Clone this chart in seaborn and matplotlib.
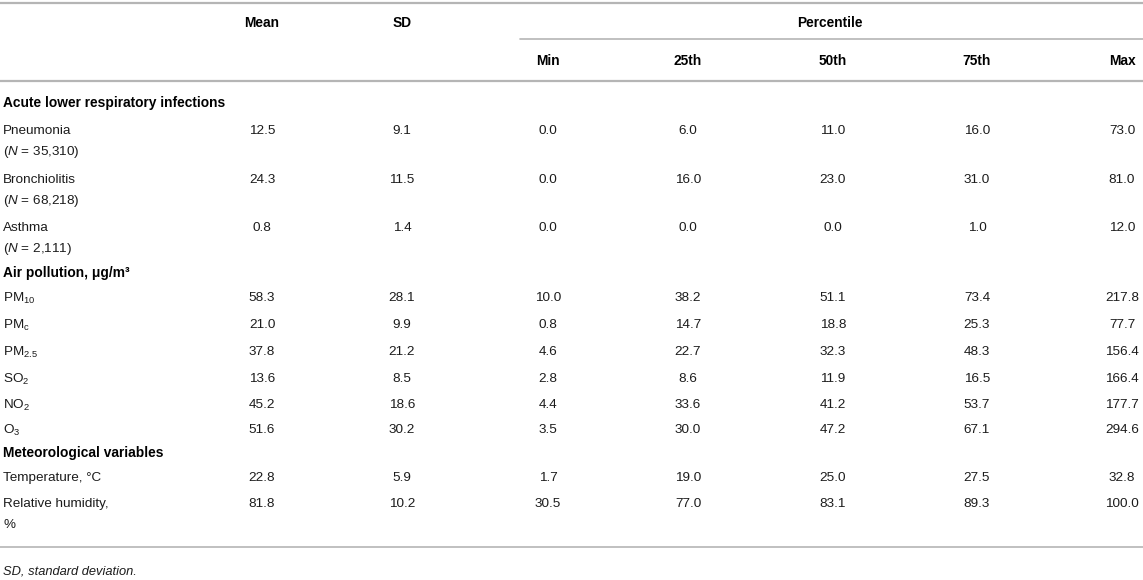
import numpy as np
import pandas as pd
import seaborn as sns
from matplotlib import pyplot as plt

#table contents
columns = ["Mean", "SD", "Min", "25th", "50th", "75th", "Max"]
groups = ["Acute lower respiratory infections", "Air pollution, μg/m³", "Meteorological variables"]
labels = ["Pneumonia", "Bronchiolitis", "Asthma",
          "PM$_\\mathrm{10}$", "PM$_\\mathrm{c}$", "PM$_\\mathrm{2.5}$", "SO$_\\mathrm{2}$", "NO$_\\mathrm{2}$", "O$_\\mathrm{3}$",
          "Temperature, °C", "Relative humidity,"]
sublabels = ["($N$ = 35,310)", "($N$ = 68,218)", "($N$ = 2,111)",
             "", "", "", "", "", "",
             "", "%"]
mean_vals = [12.5, 24.3, 0.8, 58.3, 21.0, 37.8, 13.6, 45.2, 51.6, 22.8, 81.8]
sd_vals = [9.1, 11.5, 1.4, 28.1, 9.9, 21.2, 8.5, 18.6, 30.2, 5.9, 10.2]
min_vals = [0.0, 0.0, 0.0, 10.0, 0.8, 4.6, 2.8, 4.4, 3.5, 1.7, 30.5]
p25_vals = [6.0, 16.0, 0.0, 38.2, 14.7, 22.7, 8.6, 33.6, 30.0, 19.0, 77.0]
p50_vals = [11.0, 23.0, 0.0, 51.1, 18.8, 32.3, 11.9, 41.2, 47.2, 25.0, 83.1]
p75_vals = [16.0, 31.0, 1.0, 73.4, 25.3, 48.3, 16.5, 53.7, 67.1, 27.5, 89.3]
max_vals = [73.0, 81.0, 12.0, 217.8, 77.7, 156.4, 166.4, 177.7, 294.6, 32.8, 100.0]
footnote = "SD, standard deviation."

table = pd.DataFrame({"Mean": mean_vals, "SD": sd_vals, "Min": min_vals, "25th": p25_vals,
                      "50th": p50_vals, "75th": p75_vals, "Max": max_vals})

#layout (pixel positions)
col_x = [262, 402, 548, 688, 833, 977, 1122]
group_y = [103, 273, 453]
row_y = [131, 180, 228, 298, 325, 352, 379, 405, 430, 478, 504]
sub_gap = 21

sns.set_theme(style="white")
plt.rcParams['font.family'] = ['Liberation Sans', 'DejaVu Sans']
plt.rcParams['mathtext.fontset'] = 'custom'
plt.rcParams['mathtext.rm'] = 'Liberation Sans'
plt.rcParams['mathtext.it'] = 'Liberation Sans:italic'
plt.rcParams['mathtext.bf'] = 'Liberation Sans:bold'

fig = plt.figure(figsize=(11.43, 5.8), dpi=100)
ax = fig.add_axes([0, 0, 1, 1])
ax.set_xlim(0, 1143)
ax.set_ylim(580, 0)
ax.axis('off')

fs = 9.7
fs_b = 9.9
txt = '#1c1c1c'
line_c = '#b5b5b5'

#rules
ax.plot([0, 1143], [3, 3], color=line_c, lw=1.6)
ax.plot([520, 1143], [39, 39], color=line_c, lw=1.2)
ax.plot([0, 1143], [81, 81], color=line_c, lw=1.6)
ax.plot([0, 1143], [547, 547], color=line_c, lw=1.2)

#header
for c, x in zip(columns[:2], col_x[:2]):
    ax.text(x, 23, c, ha='center', va='center', fontsize=fs_b, fontweight='bold', color='black')
ax.text(830, 23, "Percentile", ha='center', va='center', fontsize=fs_b, fontweight='bold', color='black')
for c, x in zip(columns[2:], col_x[2:]):
    ax.text(x, 61, c, ha='center', va='center', fontsize=fs_b, fontweight='bold', color='black')

#group titles
for g, y in zip(groups, group_y):
    ax.text(3, y, g, ha='left', va='center', fontsize=fs_b, fontweight='bold', color='black')

#rows
for i, y in enumerate(row_y):
    ax.text(3, y, labels[i], ha='left', va='center', fontsize=fs, color=txt)
    if sublabels[i]:
        ax.text(3, y + sub_gap, sublabels[i], ha='left', va='center', fontsize=fs, color=txt)
    for c, x in zip(columns, col_x):
        ax.text(x, y, f"{table[c].iloc[i]:.1f}", ha='center', va='center', fontsize=fs, color=txt)

ax.text(3, 572, footnote, ha='left', va='center', fontsize=9.3, style='italic', color=txt)

fig.savefig("out.png", dpi=100)
